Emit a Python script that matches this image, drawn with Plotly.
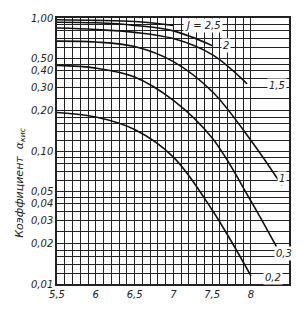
import math
import plotly.graph_objects as go

# ---- data ----
ph_25 = [5.5, 6.0, 6.5, 7.0]
a_25 = [0.97, 0.96, 0.94, 0.88]

ph_20 = [5.5, 6.0, 6.5, 7.0, 7.5]
a_20 = [0.93, 0.92, 0.88, 0.80, 0.62]

ph_15 = [5.5, 6.0, 6.5, 7.0, 7.5, 7.95]
a_15 = [0.84, 0.82, 0.78, 0.70, 0.53, 0.32]

ph_10 = [5.5, 6.0, 6.5, 7.0, 7.5, 8.0, 8.4]
a_10 = [0.67, 0.66, 0.61, 0.47, 0.28, 0.12, 0.055]

ph_03 = [5.5, 6.0, 6.5, 7.0, 7.5, 8.0, 8.33]
a_03 = [0.44, 0.42, 0.36, 0.24, 0.125, 0.042, 0.019]

ph_02 = [5.5, 6.0, 6.5, 7.0, 7.5, 8.0]
a_02 = [0.195, 0.18, 0.145, 0.09, 0.036, 0.0115]

series = [(ph_25, a_25), (ph_20, a_20), (ph_15, a_15), (ph_10, a_10), (ph_03, a_03), (ph_02, a_02)]
curve_labels = ["J = 2,5", "2", "1,5", "1", "0,3", "0,2"]
label_ph = [7.12, 7.62, 8.2, 8.33, 8.3, 8.16]
label_a = [0.88, 0.62, 0.31, 0.062, 0.017, 0.0112]

x_grid = [round(5.5 + 0.1 * i, 1) for i in range(26)]
x_labeled = {5.5: "5,5", 6.0: "6", 6.5: "6,5", 7.0: "7", 7.5: "7,5", 8.0: "8"}

y_mant = [1, 1.2, 1.4, 1.6, 1.8, 2, 2.5, 3, 3.5, 4, 4.5, 5, 6, 7, 8, 9]
y_grid = [round(m * d, 5) for d in (0.01, 0.1) for m in y_mant] + [1.0]
y_labeled = {0.01: "0,01", 0.02: "0,02", 0.03: "0,03", 0.04: "0,04", 0.05: "0,05",
             0.1: "0,10", 0.2: "0,20", 0.3: "0,30", 0.4: "0,40", 0.5: "0,50", 1.0: "1,00"}

font = dict(family="DejaVu Sans", size=10, color="#222", style="italic")

fig = go.Figure()
for (xs, ys) in series:
    fig.add_trace(go.Scatter(x=xs, y=ys, mode="lines", line=dict(color="#111", width=1.6, shape="spline"),
                             hoverinfo="skip", showlegend=False))

for t, xv, yv in zip(curve_labels, label_ph, label_a):
    fig.add_annotation(x=xv, y=math.log10(yv), yref="y", xref="x", text=t, showarrow=False, font=font,
                       bgcolor="white", borderpad=1, xanchor="left")

fig.add_annotation(x=8.38, y=math.log10(0.0078), text="pH", showarrow=False, font=font,
                   yref="y", xref="x", xanchor="left")

fig.add_annotation(x=-0.16, y=0.38, xref="paper", yref="paper", text="Коэффициент  α<sub>кис</sub>",
                   textangle=-90, showarrow=False, xanchor="center", yanchor="middle",
                   font=dict(family="DejaVu Sans", size=11, color="#222", style="italic"))

fig.update_xaxes(range=[5.5, 8.49], tickvals=x_grid,
                 ticktext=[x_labeled.get(v, "") for v in x_grid],
                 showgrid=True, gridcolor="#222", gridwidth=1, ticks="",
                 showline=True, linecolor="#222", linewidth=1.5, mirror=True,
                 tickfont=font, zeroline=False)
fig.update_yaxes(type="log", range=[-2, 0], tickvals=y_grid,
                 ticktext=[y_labeled.get(v, "") for v in y_grid],
                 showgrid=True, gridcolor="#222", gridwidth=1, ticks="",
                 showline=True, linecolor="#222", linewidth=1.5, mirror=True,
                 tickfont=font, zeroline=False)

fig.update_layout(width=303, height=312, margin=dict(l=57, r=13, t=13, b=21),
                  paper_bgcolor="white", plot_bgcolor="white")

fig.write_html("out.html")
